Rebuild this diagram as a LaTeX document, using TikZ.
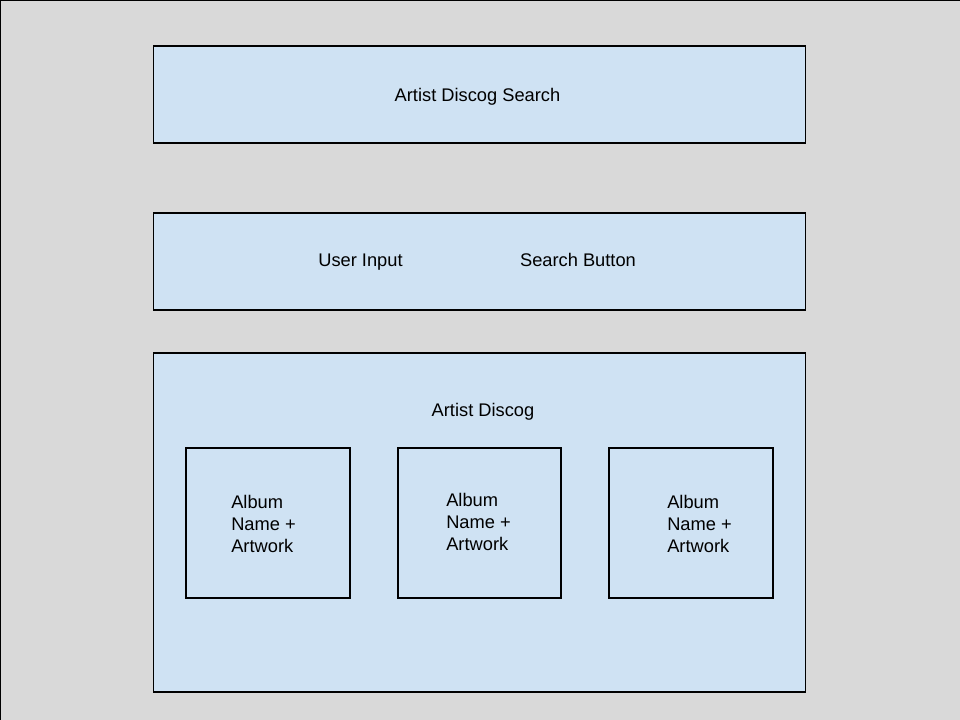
\documentclass[tikz,border=0pt]{standalone}
\usepackage{fontspec}
\setmainfont{Liberation Sans}
\definecolor{pagegray}{HTML}{D9D9D9}
\definecolor{panelblue}{HTML}{CFE2F3}

\begin{document}
\begin{tikzpicture}[x=0.025cm,y=-0.025cm,
    panel/.style={draw=black,fill=panelblue,line width=0.8pt,rectangle,inner sep=0pt},
    label/.style={font=\fontsize{13}{15.6}\selectfont,inner sep=0pt,anchor=base},
    albumtext/.style={label,align=left,anchor=west}]
    % Page
    \useasboundingbox (0,0) rectangle (960,720);
    \fill[pagegray] (0,0) rectangle (960,720);
    \draw[line width=1.4pt] (0,720) -- (0,0) -- (960,0);

    % Header
    \node[panel,minimum width=16.275cm,minimum height=2.425cm] (header) at (479.5,94.5) {};
    \node[label] (headertext) at (477.5,102) {Artist Discog Search};

    % Search bar
    \node[panel,minimum width=16.275cm,minimum height=2.425cm] (searchbar) at (479.5,261.5) {};
    \node[label] (userinput) at (360.5,267) {User Input};
    \node[label] (searchbutton) at (578,267) {Search Button};

    % Discography panel
    \node[panel,minimum width=16.275cm,minimum height=8.475cm] (discog) at (479.5,522.5) {};
    \node[label] (discogtext) at (483,417) {Artist Discog};

    % Albums
    \node[panel,minimum width=4.1cm,minimum height=3.75cm] (albumA) at (268,523) {};
    \node[panel,minimum width=4.075cm,minimum height=3.75cm] (albumB) at (479.5,523) {};
    \node[panel,minimum width=4.1cm,minimum height=3.75cm] (albumC) at (691,523) {};
    \node[albumtext] (albumAtext) at (231,524) {Album\\Name +\\Artwork};
    \node[albumtext] (albumBtext) at (446,522) {Album\\Name +\\Artwork};
    \node[albumtext] (albumCtext) at (667,524) {Album\\Name +\\Artwork};
\end{tikzpicture}
\end{document}
